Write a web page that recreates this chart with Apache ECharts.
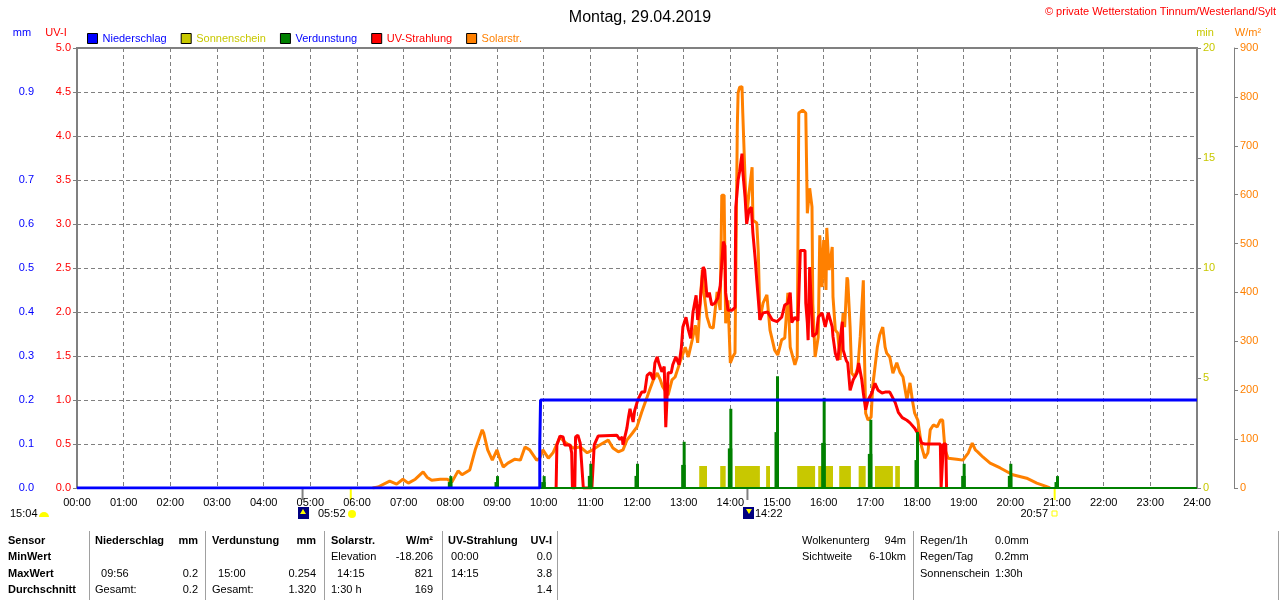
<!DOCTYPE html>
<html>
<head>
<meta charset="utf-8">
<title>Wetterstation Tinnum 29.04.2019</title>
<script src="https://cdn.jsdelivr.net/npm/echarts@6/dist/echarts.min.js"></script>
<style>
html, body { margin: 0; padding: 0; background: #fff; }
#chart { width: 1280px; height: 600px; }
</style>
</head>
<body>
<div id="chart"></div>
<script>
// all times are minutes after midnight
var hourLabels = ['00:00','01:00','02:00','03:00','04:00','05:00','06:00','07:00','08:00','09:00','10:00','11:00','12:00',
    '13:00','14:00','15:00','16:00','17:00','18:00','19:00','20:00','21:00','22:00','23:00','24:00'];

// Niederschlag (mm), cumulative
var rainSteps = [[0,0],[595,0],[595,0.1],[596,0.1],[596,0.2],[1440,0.2]];

// Verdunstung (mm), hourly spikes
var evapHours  = [8, 9, 10, 11, 12, 13, 14, 15, 16, 17, 18, 19, 20, 21];
var evapValues = [0.027, 0.027, 0.027, 0.055, 0.055, 0.105, 0.18, 0.254, 0.205, 0.155, 0.127, 0.055, 0.055, 0.027];

// Sonnenschein (min), start/end of sunny blocks
var sunBlocks = [[800,810],[827,834],[846,878],[886,891],[926,949],[953,972],[980,995],[1005,1014],[1026,1049],[1052,1058]];
var sunValue = 1;

// Solarstrahlung (W/m²)
var solar = [[380,0],[387,2],[402,14],[411,8],[419,18],[426,10],[435,18],[445,33],[450,22],[456,16],[467,18],[476,18],
    [482,12],[490,35],[495,27],[505,37],[512,78],[521,119],[523,112],[528,78],[534,57],[540,78],[543,63],[548,43],
    [554,51],[563,59],[570,57],[576,84],[582,78],[591,57],[595,61],[599,78],[606,61],[612,72],[621,104],[627,94],
    [638,82],[647,84],[656,72],[663,78],[672,88],[683,98],[689,82],[696,74],[702,78],[707,98],[714,112],[720,125],
    [726,155],[733,186],[737,204],[741,221],[746,235],[750,221],[753,207],[760,190],[765,221],[769,227],[775,256],
    [782,288],[786,268],[791,303],[795,333],[798,297],[804,446],[806,400],[810,350],[814,329],[818,327],[823,401],
    [827,364],[829,599],[832,599],[834,337],[837,384],[840,256],[843,268],[846,276],[849,742],[850,808],[852,820],
    [855,821],[856,767],[859,630],[861,554],[864,603],[868,656],[869,548],[874,542],[876,480],[878,344],[882,378],
    [887,395],[891,323],[897,282],[901,272],[906,303],[910,307],[914,399],[917,288],[919,276],[923,252],[926,268],
    [928,767],[933,773],[937,767],[939,562],[942,613],[945,575],[946,378],[949,268],[953,309],[955,517],[958,411],
    [960,507],[963,405],[964,532],[967,446],[971,493],[972,391],[975,323],[978,317],[981,262],[985,358],[987,329],
    [990,431],[991,425],[994,329],[996,235],[1000,227],[1004,247],[1007,309],[1011,425],[1012,309],[1014,153],
    [1017,139],[1021,145],[1023,207],[1029,288],[1032,313],[1036,329],[1039,288],[1041,276],[1045,268],[1049,235],
    [1054,256],[1058,237],[1062,227],[1067,180],[1071,215],[1074,180],[1077,153],[1081,139],[1086,84],[1090,61],
    [1094,72],[1097,119],[1101,129],[1106,125],[1110,139],[1113,139],[1116,78],[1120,61],[1131,59],[1139,57],
    [1146,72],[1151,92],[1155,78],[1158,74],[1165,63],[1174,51],[1187,41],[1203,27],[1221,20],[1234,10],[1245,4],[1251,0]];

// UV-Strahlung (UV-I)
var uv = [[616,0],[617,0.49],[621,0.59],[625,0.58],[627,0.49],[634,0.49],[636,0.4],[637,0],[640,0],[641,0.58],[644,0.6],
    [647,0.51],[649,0.49],[651,0],[662,0],[665,0.49],[670,0.59],[672,0.6],[694,0.6],[698,0.55],[701,0.58],[702,0.49],
    [707,0.68],[709,0.8],[711,0.9],[715,0.75],[717,0.88],[721,1.0],[726,1.09],[730,1.09],[733,1.28],[737,1.31],
    [741,1.23],[743,1.42],[746,1.49],[748,1.42],[752,1.32],[755,1.38],[757,0.69],[760,1.31],[764,1.31],[766,1.4],
    [770,1.49],[774,1.4],[777,1.59],[779,1.83],[783,1.94],[786,1.8],[789,1.7],[792,2.0],[796,2.19],[798,1.91],
    [801,2.1],[805,2.51],[807,2.48],[810,2.17],[813,2.22],[816,2.08],[820,2.1],[824,2.16],[827,2.3],[831,2.8],
    [833,2.75],[834,2.22],[837,2.02],[842,2.02],[846,2.05],[847,3.19],[850,3.5],[852,3.6],[855,3.8],[856,3.6],
    [859,3.3],[861,3.0],[864,3.16],[867,3.19],[869,2.9],[872,2.6],[874,2.36],[876,2.14],[878,1.91],[882,1.99],
    [888,2.0],[894,1.91],[900,1.89],[906,1.94],[910,2.08],[914,2.1],[917,2.22],[919,1.88],[923,1.94],[927,1.9],
    [930,2.7],[936,2.7],[937,2.1],[939,1.88],[940,1.68],[942,2.51],[945,1.91],[946,1.72],[951,1.76],[953,1.94],
    [958,1.99],[962,1.83],[966,1.99],[971,1.83],[972,1.72],[975,1.53],[978,1.45],[984,1.89],[985,1.57],[989,1.45],
    [991,1.42],[994,1.11],[998,1.23],[1003,1.31],[1005,1.42],[1009,1.23],[1011,1.08],[1014,0.89],[1017,1.0],
    [1022,1.08],[1026,1.19],[1030,1.11],[1035,1.08],[1039,1.09],[1045,1.09],[1052,0.97],[1056,0.86],[1061,0.8],
    [1067,0.77],[1071,0.74],[1077,0.68],[1081,0.62],[1086,0.51],[1090,0.5],[1110,0.5],[1111,0],[1113,0],[1114,0.5],
    [1117,0.5],[1118,0]];

// sun / moon times below the axis
var sunTicks  = [352, 1257];
var moonTicks = [290, 862];

// statistics table
var rowNames = ['Sensor', 'MinWert', 'MaxWert', 'Durchschnitt'];
var colHeads = [['Niederschlag','mm'], ['Verdunstung','mm'], ['Solarstr.','W/m²'], ['UV-Strahlung','UV-I']];
var colMin   = [['',''], ['',''], ['Elevation','-18.206'], [' 00:00','0.0']];
var colMax   = [['  09:56','0.2'], ['  15:00','0.254'], ['  14:15','821'], [' 14:15','3.8']];
var colAvg   = [['Gesamt:','0.2'], ['Gesamt:','1.320'], ['1:30 h','169'], ['','1.4']];
var extraA   = [['Wolkenunterg','94m'], ['Sichtweite','6-10km']];
var extraB   = [['Regen/1h','0.0mm'], ['Regen/Tag','0.2mm'], ['Sonnenschein','1:30h']];

var FONT = '"Liberation Sans", Arial, sans-serif';
var BLUE = '#0000ff', YEL = '#c8c800', GREEN = '#008000', RED = '#ff0000', ORANGE = '#ff8000', GREY = '#808080';

function evapData() {
    return evapHours.map(function (h, i) { return [h * 60, evapValues[i]]; });
}

function sunData() {
    var d = [];
    sunBlocks.forEach(function (b) {
        d.push([b[0], 0], [b[0], sunValue], [b[1], sunValue], [b[1], 0]);
    });
    return d;
}

// evaporation spike: wider half-height foot plus narrow full bar
function renderEvap(params, api) {
    var t = api.value(0), v = api.value(1);
    var base = api.coord([t, 0]);
    var half = api.coord([t, v / 2]);
    var top = api.coord([t, v]);
    return {
        type: 'group',
        children: [
            { type: 'rect', shape: { x: base[0] - 2.5, y: half[1], width: 4.5, height: base[1] - half[1] }, style: { fill: GREEN } },
            { type: 'rect', shape: { x: base[0] - 1, y: top[1], width: 3, height: base[1] - top[1] }, style: { fill: GREEN } }
        ]
    };
}

function txt(x, y, s, opt) {
    opt = opt || {};
    return {
        type: 'text', x: x, y: y, silent: true,
        style: {
            text: s, fill: opt.color || '#000', textAlign: opt.align || 'left', textVerticalAlign: 'middle',
            font: (opt.bold ? 'bold ' : '') + (opt.size || 11) + 'px ' + FONT
        }
    };
}
function vline(x, y1, y2, color, w) {
    return { type: 'line', silent: true, shape: { x1: x, y1: y1, x2: x, y2: y2 },
        style: { stroke: color || '#a0a0a0', lineWidth: w || 1 } };
}

var chart = echarts.init(document.getElementById('chart'));
var dash = { color: GREY, width: 1, type: [4, 3] };

var option = {
    animation: false,
    backgroundColor: '#fff',
    textStyle: { fontFamily: FONT },
    title: {
        text: 'Montag, 29.04.2019', left: 'center', top: 5,
        textStyle: { fontSize: 16, fontWeight: 'normal', color: '#000', fontFamily: FONT }
    },
    legend: {
        left: 87, top: 33, padding: 0, itemWidth: 10, itemHeight: 10, itemGap: 14, icon: 'rect',
        itemStyle: { borderColor: '#000', borderWidth: 1 },
        textStyle: { fontSize: 11, fontFamily: FONT },
        data: [
            { name: 'Niederschlag', textStyle: { color: BLUE } },
            { name: 'Sonnenschein', textStyle: { color: YEL } },
            { name: 'Verdunstung', textStyle: { color: BLUE } },
            { name: 'UV-Strahlung', textStyle: { color: RED } },
            { name: 'Solarstr.', textStyle: { color: ORANGE } }
        ]
    },
    grid: { left: 77, right: 83, top: 48, bottom: 112, show: true, borderColor: GREY, borderWidth: 2 },
    xAxis: {
        type: 'value', min: 0, max: 1440, interval: 60,
        axisLine: { lineStyle: { color: GREY, width: 2 } },
        axisTick: { show: false },
        axisLabel: { color: '#000', fontSize: 11, margin: 9, formatter: function (v) { return hourLabels[v / 60]; } },
        splitLine: { show: true, lineStyle: dash }
    },
    yAxis: [
        {   // mm
            type: 'value', min: 0, max: 1, interval: 0.1, position: 'left', offset: 37,
            axisLine: { show: true, lineStyle: { color: GREY, width: 1 } },
            axisTick: { show: true, length: 4, lineStyle: { color: GREY } },
            axisLabel: { color: BLUE, fontSize: 11, margin: 6,
                formatter: function (v) { v = Math.round(v * 10) / 10; return (v === 0.8 || v === 1) ? '' : v.toFixed(1); } },
            splitLine: { show: false }
        },
        {   // UV-I
            type: 'value', min: 0, max: 5, interval: 0.5, position: 'left',
            axisLine: { show: true, lineStyle: { color: GREY, width: 2 } },
            axisTick: { show: true, length: 4, lineStyle: { color: GREY } },
            axisLabel: { color: RED, fontSize: 11, margin: 6, formatter: function (v) { return v.toFixed(1); } },
            splitLine: { show: true, lineStyle: dash }
        },
        {   // min
            type: 'value', min: 0, max: 20, interval: 5, position: 'right',
            axisLine: { show: true, lineStyle: { color: GREY, width: 2 } },
            axisTick: { show: true, length: 4, lineStyle: { color: GREY } },
            axisLabel: { color: YEL, fontSize: 11, margin: 6 },
            splitLine: { show: false }
        },
        {   // W/m²
            type: 'value', min: 0, max: 900, interval: 100, position: 'right', offset: 37,
            axisLine: { show: true, lineStyle: { color: GREY, width: 1 } },
            axisTick: { show: true, length: 4, lineStyle: { color: GREY } },
            axisLabel: { color: ORANGE, fontSize: 11, margin: 6 },
            splitLine: { show: false }
        }
    ],
    series: [
        {
            name: 'Sonnenschein', type: 'line', yAxisIndex: 2, data: sunData(), color: YEL,
            symbol: 'none', silent: true, z: 1,
            lineStyle: { width: 0 }, areaStyle: { color: YEL, opacity: 1 }
        },
        {
            name: 'Solarstr.', type: 'line', yAxisIndex: 3, data: solar, color: ORANGE,
            symbol: 'none', silent: true, z: 2, lineStyle: { width: 3, color: ORANGE }
        },
        {
            name: 'UV-Strahlung', type: 'line', yAxisIndex: 1, data: uv, color: RED,
            symbol: 'none', silent: true, z: 3, lineStyle: { width: 3, color: RED }
        },
        {   // zero line of evaporation along the bottom
            name: 'Verdunstung', type: 'line', yAxisIndex: 0, data: [[0, 0], [1440, 0]], color: GREEN,
            symbol: 'none', silent: true, z: 4, lineStyle: { width: 2, color: GREEN }
        },
        {
            name: 'Verdunstung', type: 'custom', yAxisIndex: 0, data: evapData(), color: GREEN,
            silent: true, z: 4, encode: { x: 0, y: 1 }, renderItem: renderEvap
        },
        {
            name: 'Niederschlag', type: 'line', yAxisIndex: 0, data: rainSteps, color: BLUE,
            symbol: 'none', silent: true, z: 5, lineStyle: { width: 3, color: BLUE }
        }
    ]
};
chart.setOption(option);

// texts and decorations outside the plot
var g = [];
g.push(txt(1276, 12, '© private Wetterstation Tinnum/Westerland/Sylt', { color: RED, align: 'right' }));
g.push(txt(22, 33, 'mm', { color: BLUE, align: 'center' }));
g.push(txt(56, 33, 'UV-I', { color: RED, align: 'center' }));
g.push(txt(1205, 33, 'min', { color: YEL, align: 'center' }));
g.push(txt(1248, 33, 'W/m²', { color: ORANGE, align: 'center' }));

// sun / moon markers on the time axis
var yAxisPx = chart.convertToPixel({ yAxisIndex: 1 }, 0);
sunTicks.forEach(function (t) {
    var x = chart.convertToPixel({ xAxisIndex: 0 }, t);
    g.push(vline(x, yAxisPx + 1, yAxisPx + 12, '#ffff00', 2));
});
moonTicks.forEach(function (t) {
    var x = chart.convertToPixel({ xAxisIndex: 0 }, t);
    g.push(vline(x, yAxisPx + 1, yAxisPx + 12, GREY, 2));
});
g.push(txt(10, 514, '15:04'));
g.push({ type: 'sector', silent: true, shape: { cx: 44, cy: 517, r: 5, startAngle: Math.PI, endAngle: 2 * Math.PI }, style: { fill: '#ffff00' } });
g.push({ type: 'rect', silent: true, shape: { x: 298, y: 507, width: 11, height: 12 }, style: { fill: '#000080' } });
g.push({ type: 'polygon', silent: true, shape: { points: [[303, 509], [300, 514], [306, 514]] }, style: { fill: '#ffff00' } });
g.push(txt(318, 514, '05:52'));
g.push({ type: 'circle', silent: true, shape: { cx: 352, cy: 514, r: 4 }, style: { fill: '#ffff00' } });
g.push({ type: 'rect', silent: true, shape: { x: 743, y: 507, width: 11, height: 12 }, style: { fill: '#000080' } });
g.push({ type: 'polygon', silent: true, shape: { points: [[746, 509], [752, 509], [749, 514]] }, style: { fill: '#ffff00' } });
g.push(txt(755, 514, '14:22'));
g.push(txt(1048, 514, '20:57', { align: 'right' }));
g.push({ type: 'rect', silent: true, shape: { x: 1052, y: 511, width: 5, height: 5 }, style: { fill: 'none', stroke: '#ffff00', lineWidth: 1 } });

// statistics table
var rowY = [541, 557, 574, 590];
var colL = [95, 212, 331, 448];
var colR = [198, 316, 433, 552];
rowNames.forEach(function (n, i) { g.push(txt(8, rowY[i], n, { bold: true })); });
[89, 205, 324, 442, 557].forEach(function (x) { g.push(vline(x + 0.5, 531, 600)); });
colHeads.forEach(function (h, c) {
    g.push(txt(colL[c], rowY[0], h[0], { bold: true }));
    g.push(txt(colR[c], rowY[0], h[1], { bold: true, align: 'right' }));
    [colMin, colMax, colAvg].forEach(function (arr, r) {
        g.push(txt(colL[c], rowY[r + 1], arr[c][0]));
        g.push(txt(colR[c], rowY[r + 1], arr[c][1], { align: 'right' }));
    });
});
extraA.forEach(function (e, i) {
    g.push(txt(802, rowY[i], e[0]));
    g.push(txt(906, rowY[i], e[1], { align: 'right' }));
});
extraB.forEach(function (e, i) {
    g.push(txt(920, rowY[i], e[0]));
    g.push(txt(995, rowY[i], e[1]));
});
[913, 1278].forEach(function (x) { g.push(vline(x + 0.5, 531, 600)); });

chart.setOption({ graphic: { elements: g } });
</script>
</body>
</html>
